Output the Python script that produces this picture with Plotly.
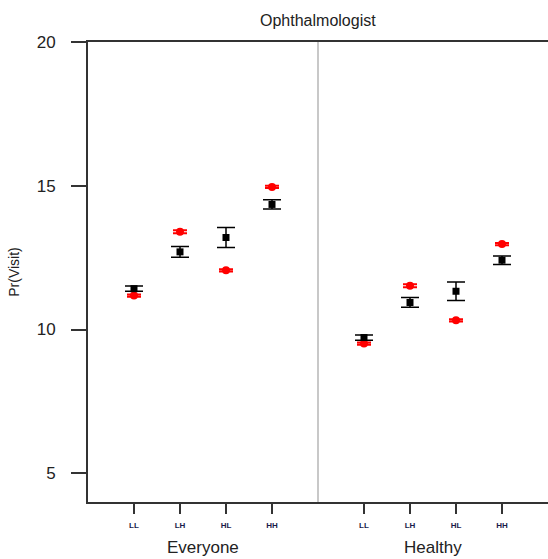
import plotly.graph_objects as go

categories = ["LL", "LH", "HL", "HH"]
groups = ["Everyone", "Healthy"]
x_pos = [1, 2, 3, 4, 6, 7, 8, 9]
tick_labels = categories + categories

black_vals = [11.42, 12.70, 13.20, 14.35, 9.72, 10.94, 11.33, 12.41]
black_err = [0.09, 0.19, 0.35, 0.16, 0.09, 0.17, 0.32, 0.15]
red_vals = [11.18, 13.40, 12.06, 14.96, 9.51, 11.52, 10.32, 12.97]
red_err = [0.04, 0.05, 0.04, 0.04, 0.04, 0.05, 0.04, 0.04]

font = "Liberation Sans, Arial, sans-serif"

fig = go.Figure()
fig.add_trace(go.Scatter(
    x=x_pos, y=red_vals, mode="markers",
    marker=dict(symbol="circle", size=8, color="red"),
    error_y=dict(type="data", array=red_err, color="red", thickness=2, width=7),
    showlegend=False))
fig.add_trace(go.Scatter(
    x=x_pos, y=black_vals, mode="markers",
    marker=dict(symbol="square", size=7, color="black"),
    error_y=dict(type="data", array=black_err, color="black", thickness=1.5, width=9),
    showlegend=False))

fig.add_shape(type="line", x0=5, x1=5, y0=0, y1=1, xref="x", yref="paper",
              line=dict(color="#c8c8c8", width=2), layer="below")

fig.add_annotation(x=2.5, y=-0.098, xref="x", yref="paper", text=groups[0],
                   showarrow=False, font=dict(family=font, size=17, color="#222"),
                   yanchor="middle")
fig.add_annotation(x=7.5, y=-0.098, xref="x", yref="paper", text=groups[1],
                   showarrow=False, font=dict(family=font, size=17, color="#222"),
                   yanchor="middle")

fig.update_layout(
    width=548, height=559,
    margin=dict(l=88, r=0, t=42, b=57),
    paper_bgcolor="white", plot_bgcolor="white",
    title=dict(text="Ophthalmologist", x=0.58, xanchor="center", y=0.963, yanchor="middle",
               font=dict(family=font, size=16, color="#222")),
    xaxis=dict(range=[0, 10], tickvals=x_pos, ticktext=tick_labels,
               showgrid=False, zeroline=False,
               showline=True, mirror=True, linecolor="#333", linewidth=2,
               ticks="outside", ticklen=10, tickwidth=2, tickcolor="#333",
               ticklabelstandoff=4,
               tickfont=dict(family=font, size=8, color="#1a1a4a", weight="bold")),
    yaxis=dict(range=[4, 20], tickvals=[5, 10, 15, 20],
               showgrid=False, zeroline=False,
               showline=True, linecolor="#333", linewidth=2,
               ticks="outside", ticklen=15, tickwidth=2, tickcolor="#333",
               ticklabelstandoff=12,
               tickfont=dict(family=font, size=17, color="#222"),
               title=dict(text="Pr(Visit)", font=dict(family=font, size=14, color="#222"),
                          standoff=14)),
)

fig.write_html("out.html")
